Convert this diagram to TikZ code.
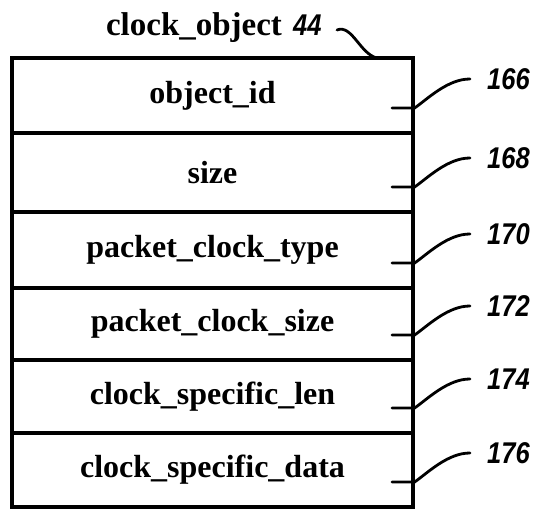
\documentclass[tikz,border=0pt]{standalone}
\usepackage{fontspec}
\setmainfont{Liberation Serif}
\newfontfamily\numfont[FakeStretch=0.85]{Liberation Sans}
\begin{document}
\begin{tikzpicture}[x=1pt,y=-1pt,
  field/.style={draw,line width=3.3pt,minimum width=401pt,inner sep=0pt,
    font=\fontsize{32}{32}\selectfont\bfseries},
  refnum/.style={font=\fontsize{30}{30}\numfont\bfseries\itshape,inner sep=0pt,anchor=west},
  leader/.style={line width=2.8pt,line cap=round}]
\useasboundingbox (0,0) rectangle (541,510);

% title
\node[font=\fontsize{33}{33}\selectfont\bfseries,inner sep=0pt,anchor=base] (title) at (194,36) {clock\_object};
\node[refnum,anchor=base west] (n44) at (293,36) {44};
\coordinate (t0) at (337,30);
\coordinate (t1) at (377,58);
\draw[leader] (t0) .. controls (352,24) and (360,54) .. (t1);

% fields of the record, top to bottom
\foreach \name/\txt/\top/\bot/\num in {
   r1/object\_id/58/133/166,
   r2/size/133/212/168,
   r3/packet\_clock\_type/212/288/170,
   r4/packet\_clock\_size/288/360/172,
   r5/clock\_specific\_len/360/433/174,
   r6/clock\_specific\_data/433/507/176}{
  \node[field,minimum height=\bot-\top] (\name) at (212.5,{(\top+\bot)/2}) {\txt};
  \coordinate (\name-s) at (392,\bot-25);
  \coordinate (\name-e) at (\name.east |- \name-s);
  \coordinate (\name-t) at (470,\bot-54);
  \node[refnum] (\name-n) at (487,\bot-54) {\num};
  \draw[leader] (\name-s) -- (\name-e)
     .. controls ([shift={(14,-10)}]\name-e) and ([shift={(-22,0)}]\name-t) .. (\name-t);
}
\end{tikzpicture}
\end{document}
